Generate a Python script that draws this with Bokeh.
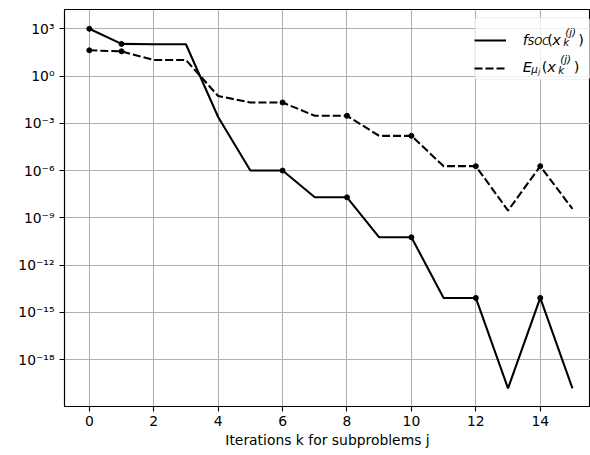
from bokeh.plotting import figure
from bokeh.models import (Range1d, FixedTicker, CustomJSTickFormatter, Legend,
                          LegendItem, Label, ColumnDataSource, BoxAnnotation)
from bokeh.embed import file_html
from bokeh.resources import INLINE

# ---------------- data ----------------
iterations = list(range(16))
f_soc = [1.0e3, 1.1e2, 1.05e2, 1.05e2, 2.5e-3, 1.0e-6, 1.0e-6, 2.0e-8, 2.0e-8,
         5.8e-11, 5.8e-11, 8.2e-15, 8.2e-15, 1.5e-20, 8.2e-15, 1.5e-20]
e_mu = [43.0, 37.0, 10.4, 10.4, 0.054, 0.021, 0.021, 3.0e-3, 3.0e-3,
        1.6e-4, 1.6e-4, 1.9e-6, 1.9e-6, 2.9e-9, 1.9e-6, 3.7e-9]
marker_iters = [0, 1, 6, 8, 10, 12, 14]

x_ticks = [0, 2, 4, 6, 8, 10, 12, 14]
y_tick_exponents = [3, 0, -3, -6, -9, -12, -15, -18]
y_tick_labels = ["10³", "10⁰", "10⁻³", "10⁻⁶", "10⁻⁹", "10⁻¹²", "10⁻¹⁵", "10⁻¹⁸"]
x_label = "Iterations k for subproblems j"

FONT = "DejaVu Sans"
FW, FH = 526, 397

p = figure(frame_width=FW, frame_height=FH, y_axis_type="log",
           x_range=Range1d(-0.77, 15.56), y_range=Range1d(10 ** -20.98, 10 ** 4.225),
           output_backend="svg", toolbar_location=None,
           min_border_left=64, min_border_right=0, min_border_top=9, min_border_bottom=46,
           background_fill_color="white", border_fill_color="white")

p.outline_line_color = "black"
p.outline_line_width = 1.1

# axes
p.xaxis.ticker = FixedTicker(ticks=x_ticks)
p.yaxis.ticker = FixedTicker(ticks=[10.0 ** e for e in y_tick_exponents])
p.yaxis.formatter = CustomJSTickFormatter(
    args=dict(exps=y_tick_exponents, labels=y_tick_labels),
    code="""
    const e = Math.round(Math.log10(tick));
    const i = exps.indexOf(e);
    return i >= 0 ? labels[i] : "";
    """)
for ax in (p.xaxis[0], p.yaxis[0]):
    ax.axis_line_color = "black"
    ax.axis_line_width = 1.1
    ax.major_tick_line_color = "black"
    ax.major_tick_line_width = 1.1
    ax.major_tick_out = 5
    ax.major_tick_in = 0
    ax.minor_tick_line_color = None
    ax.major_label_text_font = FONT
    ax.major_label_text_font_size = "13.9px"
    ax.major_label_text_color = "black"
p.xaxis.major_label_standoff = 4
p.yaxis.major_label_standoff = 5
p.xaxis.axis_label = x_label
p.xaxis.axis_label_text_font = FONT
p.xaxis.axis_label_text_font_size = "13.9px"
p.xaxis.axis_label_text_font_style = "normal"
p.xaxis.axis_label_text_color = "black"
p.xaxis.axis_label_standoff = 3

p.grid.grid_line_color = "#b0b0b0"
p.grid.grid_line_width = 1.1

# legend frame (behind the legend glyphs and texts)
LEG_LEFT, LEG_TOP, LEG_W, LEG_H = 410.3, 8.3, 115, 62   # screen px inside the frame
p.add_layout(BoxAnnotation(left=LEG_LEFT, right=LEG_LEFT + LEG_W,
                           top=FH - LEG_TOP, bottom=FH - LEG_TOP - LEG_H,
                           left_units="screen", right_units="screen",
                           top_units="screen", bottom_units="screen",
                           fill_color="white", fill_alpha=0.8,
                           line_color="#cccccc", line_width=1.1, border_radius=3,
                           level="underlay"))

# data
src = ColumnDataSource(dict(x=iterations, f=f_soc, e=e_mu))
msrc = ColumnDataSource(dict(x=marker_iters,
                             f=[f_soc[i] for i in marker_iters],
                             e=[e_mu[i] for i in marker_iters]))

r_f = p.line("x", "f", source=src, line_color="black", line_width=2.08)
r_e = p.line("x", "e", source=src, line_color="black", line_width=2.08, line_dash="8 3")
p.scatter("x", "f", source=msrc, size=5, color="black")
p.scatter("x", "e", source=msrc, size=5, color="black")

legend = Legend(items=[LegendItem(label="", renderers=[r_f]),
                       LegendItem(label="", renderers=[r_e])],
                location=(LEG_LEFT, FH - LEG_TOP - LEG_H), margin=0, padding=6, spacing=6,
                glyph_width=32, glyph_height=22, label_height=22, label_width=61,
                label_standoff=10, border_line_color=None,
                background_fill_color=None, background_fill_alpha=0)
p.add_layout(legend)

# legend texts (math-like pieces): (text, dx, baseline_from_frame_top, size, style)
tx0 = LEG_LEFT + 6 + 32 + 10
legend_pieces = [
    ("f", 0.0, 30.0, "14.5px", "italic"),
    ("SOC", 5.0, 31.5, "10.2px", "italic"),
    ("(", 24.5, 30.0, "14.5px", "normal"),
    ("x", 29.5, 30.0, "14.5px", "italic"),
    ("k", 40.5, 33.3, "10.2px", "italic"),
    ("(j)", 42.5, 23.0, "10.2px", "italic"),
    (")", 55.5, 30.0, "14.5px", "normal"),
    ("E", 0.0, 57.3, "14.5px", "italic"),
    ("μ", 8.5, 60.3, "10.2px", "italic"),
    ("j", 15.5, 62.3, "7.2px", "italic"),
    ("(", 19.0, 57.3, "14.5px", "normal"),
    ("x", 24.5, 57.3, "14.5px", "italic"),
    ("k", 35.5, 60.6, "10.2px", "italic"),
    ("(j)", 37.5, 50.3, "10.2px", "italic"),
    (")", 51.0, 57.3, "14.5px", "normal"),
]
for text, dx, base, size, style in legend_pieces:
    p.add_layout(Label(x=tx0 + dx, y=FH - base, x_units="screen", y_units="screen",
                       text=text, text_font=FONT, text_font_size=size,
                       text_font_style=style, text_baseline="alphabetic",
                       text_align="left", text_color="black", level="overlay"))

open("out.html", "w").write(file_html(p, INLINE))
